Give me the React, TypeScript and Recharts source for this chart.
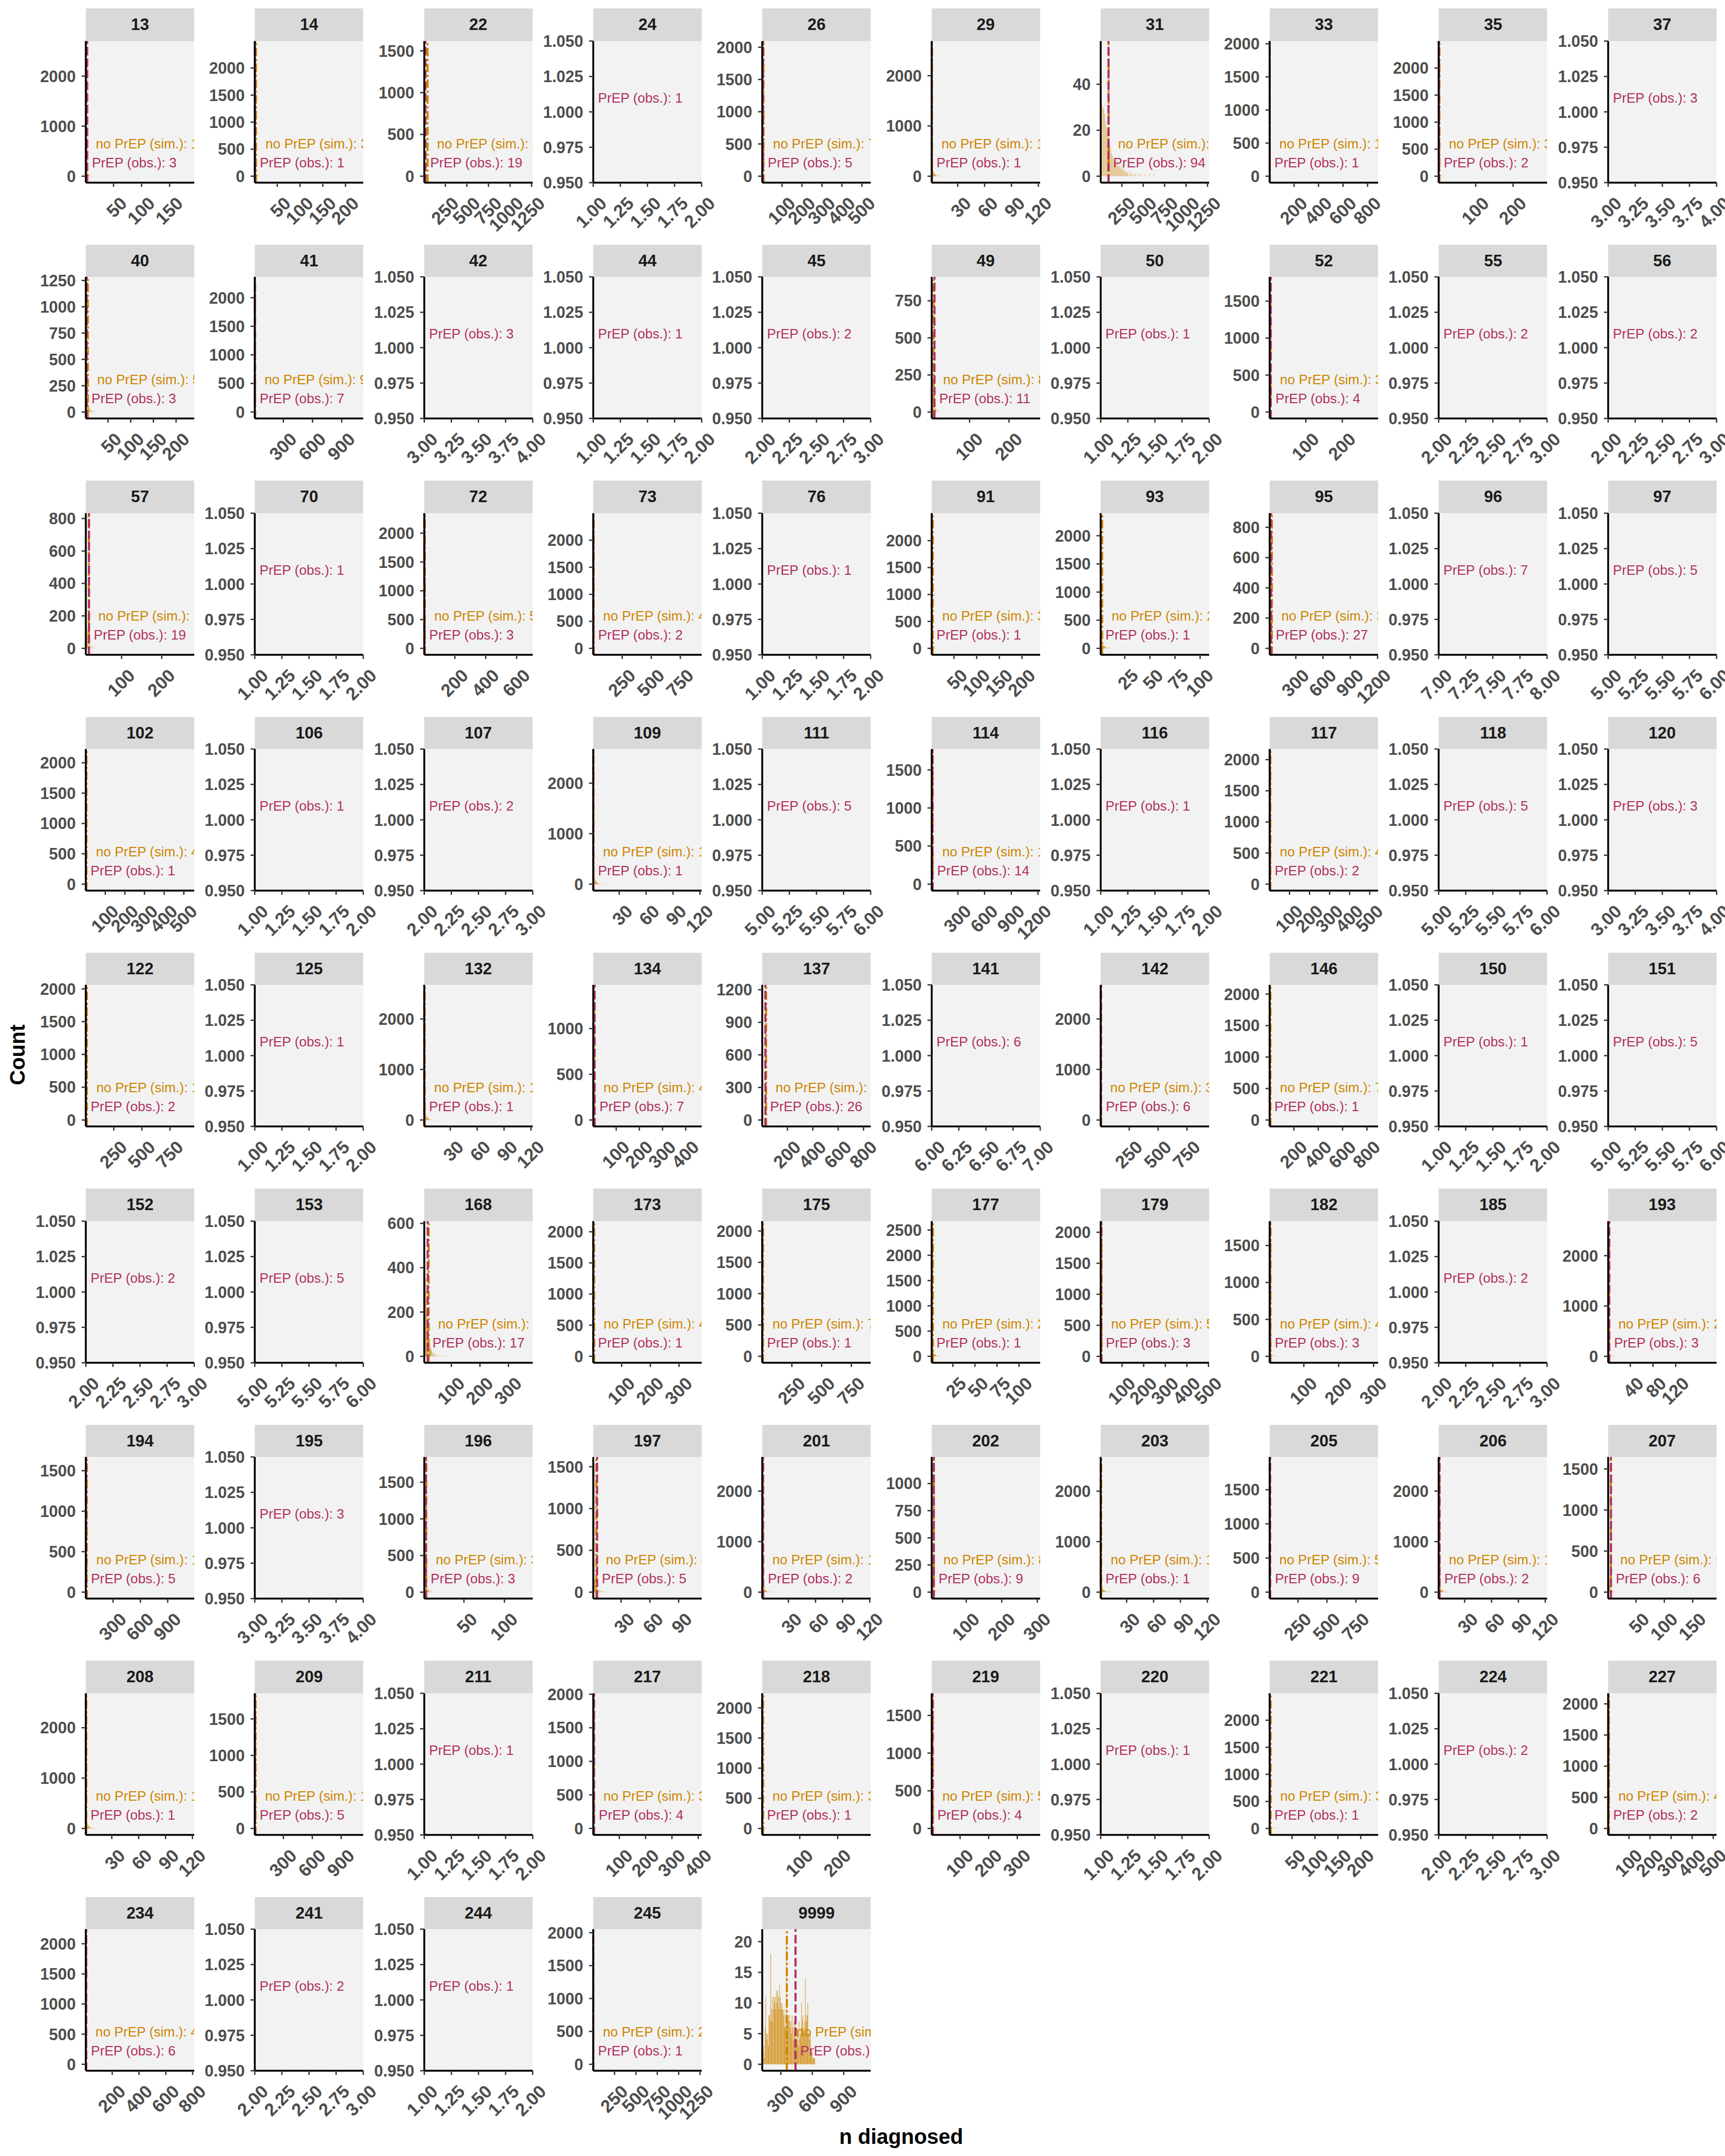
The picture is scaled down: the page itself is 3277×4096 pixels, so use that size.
import React from "react";
import {
  ComposedChart,
  Bar,
  XAxis,
  YAxis,
  CartesianGrid,
  ReferenceLine,
  ReferenceDot,
} from "recharts";

// facets, in reading order (10 per row)
const facetIds = [
  "13", "14", "22", "24", "26", "29", "31", "33", "35", "37",
  "40", "41", "42", "44", "45", "49", "50", "52", "55", "56",
  "57", "70", "72", "73", "76", "91", "93", "95", "96", "97",
  "102", "106", "107", "109", "111", "114", "116", "117", "118", "120",
  "122", "125", "132", "134", "137", "141", "142", "146", "150", "151",
  "152", "153", "168", "173", "175", "177", "179", "182", "185", "193",
  "194", "195", "196", "197", "201", "202", "203", "205", "206", "207",
  "208", "209", "211", "217", "218", "219", "220", "221", "224", "227",
  "234", "241", "244", "245", "9999",
];

// observed n diagnosed with PrEP
const prepObserved = [
  3, 1, 19, 1, 5, 1, 94, 1, 2, 3,
  3, 7, 3, 1, 2, 11, 1, 4, 2, 2,
  19, 1, 3, 2, 1, 1, 1, 27, 7, 5,
  1, 1, 2, 1, 5, 14, 1, 2, 5, 3,
  2, 1, 1, 7, 26, 6, 6, 1, 1, 5,
  2, 5, 17, 1, 1, 1, 3, 3, 2, 3,
  5, 3, 3, 5, 2, 9, 1, 9, 2, 6,
  1, 5, 1, 4, 1, 4, 1, 1, 2, 2,
  6, 2, 1, 1, 440,
];

// mean of simulated no-PrEP runs (null = no simulation for that facet)
const noPrepSimMean: (number | null)[] = [
  1.43, 3.12, 44.2, null, 7.31, 1.28, 95.4, 1.62, 3.05, null,
  5.34, 9.18, null, null, null, 8.64, null, 3.27, null, null,
  18.5, null, 5.41, 4.23, null, 3.35, 2.44, 36.1, null, null,
  4.37, null, null, 1.34, null, 17.4, null, 4.42, null, null,
  10.2, null, 1.45, 4.61, 31.5, null, 3.52, 7.48, null, null,
  null, null, 20.3, 4.18, 7.26, 2.35, 5.12, 4.33, null, 2.41,
  11.8, null, 3.44, 4.29, 1.72, 8.83, 1.61, 5.63, 1.87, 5.72,
  1.52, 11.3, null, 3.36, 3.21, 5.27, null, 3.18, null, 4.46,
  4.39, null, null, 2.33, 357,
];

// x range of each facet
const xLimits: (number[] | null)[] = [
  [0.5, 194], [0.5, 239], [6, 1263], null, [1, 544], [1, 122], [3, 1269], [1, 886], [1, 291], null,
  [1, 240], [6, 1121], null, null, null, [4, 279], null, [1, 298], null, null,
  [11, 281], null, [2, 704], [1, 934], null, [1, 240], [1, 109], [12, 1206], null, null,
  [1, 553], null, null, [1, 122], null, [6, 1225], null, [1, 542], null, null,
  [1, 966], null, [1, 122], [1, 469], [1, 856], null, [3, 942], [1, 892], null, null,
  null, null, [5, 385], [1, 379], [1, 912], [1, 124], [1, 503], [2, 313], null, [1, 192],
  [1, 1191], null, [1, 135], [1, 114], [1, 121], [3, 308], [1, 122], [5, 942], [1, 122], [1, 192],
  [1, 122], [3, 1129], null, [1, 413], [1, 287], [1, 380], null, [1, 238], null, [1, 516],
  [3, 812], null, null, [1, 1269], [122, 1157],
];

const xTickValues: (number[] | null)[] = [
  [50, 100, 150], [50, 100, 150, 200], [250, 500, 750, 1000, 1250], null, [100, 200, 300, 400, 500], [30, 60, 90, 120], [250, 500, 750, 1000, 1250], [200, 400, 600, 800], [100, 200], null,
  [50, 100, 150, 200], [300, 600, 900], null, null, null, [100, 200], null, [100, 200], null, null,
  [100, 200], null, [200, 400, 600], [250, 500, 750], null, [50, 100, 150, 200], [25, 50, 75, 100], [300, 600, 900, 1200], null, null,
  [100, 200, 300, 400, 500], null, null, [30, 60, 90, 120], null, [300, 600, 900, 1200], null, [100, 200, 300, 400, 500], null, null,
  [250, 500, 750], null, [30, 60, 90, 120], [100, 200, 300, 400], [200, 400, 600, 800], null, [250, 500, 750], [200, 400, 600, 800], null, null,
  null, null, [100, 200, 300], [100, 200, 300], [250, 500, 750], [25, 50, 75, 100], [100, 200, 300, 400, 500], [100, 200, 300], null, [40, 80, 120],
  [300, 600, 900], null, [50, 100], [30, 60, 90], [30, 60, 90, 120], [100, 200, 300], [30, 60, 90, 120], [250, 500, 750], [30, 60, 90, 120], [50, 100, 150],
  [30, 60, 90, 120], [300, 600, 900], null, [100, 200, 300, 400], [100, 200], [100, 200, 300], null, [50, 100, 150, 200], null, [100, 200, 300, 400, 500],
  [200, 400, 600, 800], null, null, [250, 500, 750, 1000, 1250], [300, 600, 900],
];

const yTickValues: (number[] | null)[] = [
  [0, 1000, 2000], [0, 500, 1000, 1500, 2000], [0, 500, 1000, 1500], null, [0, 500, 1000, 1500, 2000], [0, 1000, 2000], [0, 20, 40], [0, 500, 1000, 1500, 2000], [0, 500, 1000, 1500, 2000], null,
  [0, 250, 500, 750, 1000, 1250], [0, 500, 1000, 1500, 2000], null, null, null, [0, 250, 500, 750], null, [0, 500, 1000, 1500], null, null,
  [0, 200, 400, 600, 800], null, [0, 500, 1000, 1500, 2000], [0, 500, 1000, 1500, 2000], null, [0, 500, 1000, 1500, 2000], [0, 500, 1000, 1500, 2000], [0, 200, 400, 600, 800], null, null,
  [0, 500, 1000, 1500, 2000], null, null, [0, 1000, 2000], null, [0, 500, 1000, 1500], null, [0, 500, 1000, 1500, 2000], null, null,
  [0, 500, 1000, 1500, 2000], null, [0, 1000, 2000], [0, 500, 1000], [0, 300, 600, 900, 1200], null, [0, 1000, 2000], [0, 500, 1000, 1500, 2000], null, null,
  null, null, [0, 200, 400, 600], [0, 500, 1000, 1500, 2000], [0, 500, 1000, 1500, 2000], [0, 500, 1000, 1500, 2000, 2500], [0, 500, 1000, 1500, 2000], [0, 500, 1000, 1500], null, [0, 1000, 2000],
  [0, 500, 1000, 1500], null, [0, 500, 1000, 1500], [0, 500, 1000, 1500], [0, 1000, 2000], [0, 250, 500, 750, 1000], [0, 1000, 2000], [0, 500, 1000, 1500], [0, 1000, 2000], [0, 500, 1000, 1500],
  [0, 1000, 2000], [0, 500, 1000, 1500], null, [0, 500, 1000, 1500, 2000], [0, 500, 1000, 1500, 2000], [0, 500, 1000, 1500], null, [0, 500, 1000, 1500, 2000], null, [0, 500, 1000, 1500, 2000],
  [0, 500, 1000, 1500, 2000], null, null, [0, 500, 1000, 1500, 2000], [0, 5, 10, 15, 20],
];

// facets with no simulation: fixed 0.95..1.05 count axis, x from obs to obs + 1
const emptyYTicks = [0.95, 0.975, 1, 1.025, 1.05];
const emptyXSteps = [0, 0.25, 0.5, 0.75, 1];

// histogram bins of simulated n diagnosed: [bin centre, count]
const histBins: (number[][] | null)[] = [
  [[1, 2574], [2, 205], [3, 96], [4, 58], [5, 37], [6, 26], [8, 15], [10, 9], [13, 5], [17, 3], [24, 2], [35, 1], [60, 1]],
  [[1, 2381], [2, 176], [3, 85], [4, 51], [5, 34], [7, 19], [9, 12], [12, 7], [16, 4], [23, 2], [40, 1], [85, 1]],
  [[7, 1540], [8, 160], [10, 74], [13, 43], [17, 28], [24, 17], [35, 10], [55, 6], [90, 3], [150, 2], [260, 1]],
  null,
  [[1, 1996], [2, 168], [3, 84], [5, 45], [8, 25], [12, 14], [18, 8], [28, 4], [45, 2], [80, 1], [150, 1]],
  [[1, 2561], [2, 190], [3, 88], [4, 52], [5, 33], [6, 22], [8, 13], [10, 8], [14, 4], [20, 2], [32, 1]],
  [[5, 56], [10, 43], [20, 31], [30, 30], [40, 29], [50, 27], [60, 24], [70, 22], [80, 20], [90, 16], [100, 14], [110, 13], [120, 12], [130, 10], [140, 9], [150, 8], [160, 7], [170, 7], [180, 6], [190, 5], [200, 7], [210, 4], [220, 5], [230, 3], [240, 4], [250, 3], [260, 5], [270, 2], [280, 3], [290, 2], [300, 2], [310, 1], [320, 2], [340, 1], [350, 2], [370, 1], [390, 1], [410, 1], [440, 1], [470, 1], [520, 1], [570, 1], [620, 1]],
  [[1, 1944], [2, 150], [3, 72], [5, 38], [8, 21], [12, 12], [19, 6], [30, 3], [50, 2], [90, 1], [160, 1]],
  [[1, 2381], [2, 178], [3, 86], [4, 50], [6, 28], [8, 17], [11, 10], [15, 5], [22, 3], [35, 1], [60, 1]],
  null,
  [[1, 1223], [2, 520], [3, 260], [4, 150], [5, 110], [6, 82], [7, 61], [8, 46], [9, 36], [10, 28], [12, 20], [14, 14], [16, 9], [18, 6], [21, 4], [25, 2], [32, 1]],
  [[7, 2252], [8, 170], [10, 80], [13, 45], [17, 27], [24, 15], [35, 8], [55, 4], [90, 2], [160, 1]],
  null,
  null,
  null,
  [[5, 868], [6, 310], [7, 170], [8, 110], [9, 78], [10, 58], [12, 40], [14, 28], [16, 19], [19, 12], [23, 7], [28, 4], [35, 2], [48, 1]],
  null,
  [[1, 1742], [2, 140], [3, 68], [4, 40], [6, 23], [8, 14], [11, 8], [15, 4], [22, 2], [35, 1]],
  null,
  null,
  [[12, 793], [13, 240], [14, 130], [15, 90], [16, 64], [18, 42], [20, 30], [23, 19], [27, 12], [32, 7], [40, 4], [52, 2], [70, 1], [110, 1], [160, 1]],
  null,
  [[5, 2235], [6, 170], [8, 80], [10, 46], [13, 27], [18, 15], [25, 8], [38, 4], [60, 2], [110, 1]],
  [[6, 2381], [7, 180], [9, 84], [12, 46], [16, 27], [22, 15], [32, 8], [48, 4], [75, 2], [130, 1]],
  null,
  [[1, 2390], [2, 180], [3, 86], [4, 52], [6, 29], [8, 18], [11, 10], [15, 6], [21, 3], [32, 2], [55, 1]],
  [[1, 2286], [2, 175], [3, 84], [4, 50], [5, 34], [6, 24], [8, 14], [10, 9], [13, 5], [17, 3], [24, 2], [35, 1]],
  [[13, 851], [14, 260], [16, 140], [18, 90], [21, 60], [25, 40], [30, 27], [37, 17], [46, 10], [58, 6], [75, 4], [100, 2], [140, 1], [200, 1], [300, 1]],
  null,
  null,
  [[1, 2120], [2, 160], [3, 78], [5, 42], [8, 23], [12, 13], [18, 7], [28, 4], [45, 2], [80, 1]],
  null,
  null,
  [[1, 2548], [2, 188], [3, 90], [4, 54], [5, 35], [6, 24], [8, 14], [10, 9], [13, 5], [18, 3], [26, 1]],
  null,
  [[7, 1689], [8, 220], [10, 110], [13, 64], [17, 40], [24, 24], [35, 14], [52, 8], [80, 4], [130, 2], [220, 1], [380, 1]],
  null,
  [[1, 2067], [2, 158], [3, 76], [5, 41], [8, 22], [12, 12], [18, 7], [28, 3], [45, 2], [80, 1]],
  null,
  null,
  [[2, 1963], [3, 150], [5, 72], [8, 40], [12, 24], [18, 14], [27, 9], [40, 6], [60, 4], [90, 3], [130, 2], [190, 2], [260, 1], [350, 1], [450, 1]],
  null,
  [[1, 2548], [2, 190], [3, 92], [4, 55], [5, 36], [6, 25], [8, 15], [10, 9], [13, 5], [18, 3], [26, 2], [40, 1], [60, 1]],
  [[1, 1408], [2, 150], [3, 74], [4, 45], [6, 27], [8, 17], [11, 10], [15, 6], [21, 3], [32, 2], [55, 1], [100, 1]],
  [[2, 1186], [3, 160], [5, 80], [8, 48], [12, 30], [18, 19], [27, 12], [40, 8], [60, 5], [90, 3], [130, 2], [180, 1], [230, 1]],
  null,
  [[6, 2548], [7, 190], [9, 88], [12, 48], [16, 28], [22, 16], [32, 9], [48, 5], [75, 3], [120, 1]],
  [[1, 2045], [2, 155], [3, 75], [5, 40], [8, 22], [12, 12], [18, 7], [28, 4], [45, 2], [80, 1], [140, 1]],
  null,
  null,
  null,
  null,
  [[6, 581], [8, 437], [10, 350], [12, 291], [14, 200], [16, 155], [18, 126], [20, 95], [22, 75], [24, 58], [26, 43], [28, 35], [30, 25], [34, 18], [38, 14], [42, 10], [48, 7], [55, 5], [65, 4], [75, 3], [90, 2], [110, 2], [130, 1]],
  [[1, 2067], [2, 160], [3, 76], [5, 40], [8, 22], [12, 12], [18, 7], [28, 3], [45, 2], [80, 1]],
  [[1, 2053], [2, 158], [3, 76], [5, 40], [8, 22], [12, 13], [18, 7], [28, 4], [45, 2], [80, 1], [150, 1]],
  [[1, 2548], [2, 192], [3, 92], [4, 55], [5, 36], [6, 25], [8, 15], [10, 9], [13, 5], [17, 3], [24, 2], [35, 1]],
  [[1, 2075], [2, 160], [3, 78], [5, 42], [8, 23], [12, 13], [18, 7], [28, 4], [45, 2], [80, 1]],
  [[4, 1742], [5, 140], [6, 70], [8, 40], [10, 25], [13, 15], [17, 9], [23, 5], [32, 3], [45, 2], [70, 1]],
  null,
  [[1, 2558], [2, 190], [3, 90], [4, 54], [5, 35], [7, 20], [9, 12], [12, 7], [16, 4], [22, 2], [32, 1]],
  [[1, 1590], [2, 130], [3, 64], [5, 36], [8, 20], [12, 12], [18, 7], [28, 4], [45, 2], [80, 1], [140, 1]],
  null,
  [[2, 1756], [3, 140], [4, 68], [5, 42], [6, 28], [8, 17], [10, 10], [13, 6], [17, 3], [24, 2], [35, 1]],
  [[2, 1540], [3, 150], [4, 74], [5, 45], [6, 30], [8, 19], [10, 11], [13, 7], [17, 4], [24, 2], [35, 1]],
  [[1, 2548], [2, 190], [3, 90], [4, 54], [5, 35], [6, 24], [8, 14], [10, 9], [13, 5], [18, 3], [26, 1]],
  [[4, 1185], [5, 190], [6, 100], [7, 64], [8, 45], [10, 30], [12, 20], [15, 13], [19, 8], [25, 5], [33, 3], [45, 2], [65, 1]],
  [[1, 2548], [2, 190], [3, 90], [4, 54], [5, 35], [6, 24], [8, 14], [10, 9], [13, 5], [18, 3], [26, 1]],
  [[6, 1885], [7, 150], [9, 72], [12, 40], [16, 23], [22, 13], [32, 8], [48, 4], [75, 2], [120, 1]],
  [[1, 2548], [2, 188], [3, 90], [4, 54], [5, 35], [6, 24], [8, 14], [10, 9], [13, 5], [18, 3], [26, 1]],
  [[2, 1567], [3, 150], [4, 72], [5, 44], [6, 30], [8, 18], [10, 11], [13, 6], [17, 4], [23, 2], [32, 1]],
  [[1, 2555], [2, 190], [3, 90], [4, 54], [5, 35], [6, 24], [8, 14], [10, 9], [13, 5], [18, 3], [26, 1]],
  [[4, 1762], [5, 140], [7, 66], [10, 36], [14, 20], [20, 12], [30, 7], [45, 4], [70, 2], [120, 1]],
  null,
  [[1, 1917], [2, 150], [3, 72], [5, 38], [8, 21], [12, 12], [18, 6], [28, 3], [45, 2], [80, 1]],
  [[1, 2134], [2, 165], [3, 80], [4, 48], [6, 27], [8, 16], [11, 9], [15, 5], [22, 3], [35, 1]],
  [[1, 1708], [2, 140], [3, 68], [4, 42], [6, 25], [8, 15], [11, 9], [15, 5], [22, 3], [35, 1], [60, 1]],
  null,
  [[1, 2378], [2, 180], [3, 86], [4, 52], [5, 34], [7, 19], [9, 12], [12, 7], [16, 4], [23, 2], [40, 1]],
  null,
  [[1, 2066], [2, 158], [3, 76], [5, 40], [8, 22], [12, 12], [18, 7], [28, 3], [45, 2], [80, 1]],
  [[4, 2136], [5, 165], [7, 78], [10, 42], [14, 24], [20, 13], [30, 7], [45, 4], [70, 2], [120, 1]],
  null,
  null,
  [[7, 1957], [8, 150], [10, 72], [13, 40], [17, 23], [24, 13], [35, 7], [55, 4], [90, 2], [150, 1]],
  [[132, 2], [138, 3], [144, 1], [150, 6], [156, 11], [162, 5], [168, 4], [174, 5], [180, 3], [186, 8], [192, 8], [198, 7], [204, 18], [210, 9], [216, 7], [222, 11], [228, 9], [234, 11], [240, 10], [246, 11], [252, 9], [258, 12], [264, 10], [270, 12], [276, 11], [282, 9], [288, 13], [294, 11], [300, 10], [306, 9], [312, 10], [318, 9], [324, 8], [330, 9], [336, 6], [342, 8], [348, 6], [354, 21], [360, 8], [366, 7], [372, 8], [378, 7], [384, 8], [390, 6], [396, 7], [402, 5], [408, 8], [414, 6], [420, 4], [426, 7], [432, 5], [438, 8], [444, 3], [450, 6], [456, 4], [462, 5], [468, 3], [474, 7], [480, 4], [486, 5], [492, 6], [498, 10], [504, 7], [510, 8], [516, 6], [522, 5], [528, 7], [534, 14], [540, 8], [546, 7], [552, 8], [558, 10], [564, 5], [570, 5], [576, 4], [582, 5], [588, 2], [594, 2], [600, 2], [606, 1], [612, 1], [618, 1], [624, 1]],
];

// bin width for facets that are not binned by 1
const wideBins: [string, number][] = [["31", 10], ["168", 2], ["9999", 6]];

const FONT = "'Liberation Sans', Arial, Helvetica, sans-serif";
const SIM_COLOR = "#CD8500";
const OBS_COLOR = "#B03060";

// layout (px)
const COL_X0 = 163;
const COL_STEP = 321.3;
const PANEL_W = 206;
const ROW_Y0 = 16.4;
const ROW_STEP = 448.4;
const STRIP_H = 61.4;
const PANEL_H = 269;
const Y_AXIS_W = 112;
const TOP_PAD = 22;
const X_AXIS_H = 124;
const RIGHT_PAD = 48;

const clippedText = (text: string, color: string, dx: number) => (p: any) => {
  const cx = p.cx ?? p.x ?? 0;
  const cy = p.cy ?? p.y ?? 0;
  return (
    <svg x={Y_AXIS_W} y={TOP_PAD} width={PANEL_W} height={PANEL_H} overflow="hidden">
      <text
        x={cx - Y_AXIS_W + dx}
        y={cy - TOP_PAD}
        fill={color}
        fontSize={25.7}
        fontFamily={FONT}
        dominantBaseline="central"
      >
        {text}
      </text>
    </svg>
  );
};

function YTick(props: any) {
  const { x, y, payload, digits } = props;
  return (
    <text x={x} y={y} textAnchor="end" dominantBaseline="central" fill="#4D4D4D"
      fontSize={30.5} fontWeight={700} fontFamily={FONT}>
      {Number(payload.value).toFixed(digits)}
    </text>
  );
}

function XTick(props: any) {
  const { x, y, payload, digits } = props;
  const ax = x + 10;
  return (
    <text x={ax} y={y} transform={`rotate(-45, ${ax}, ${y})`} textAnchor="end"
      dominantBaseline="hanging" fill="#4D4D4D" fontSize={34} fontWeight={700} fontFamily={FONT}>
      {Number(payload.value).toFixed(digits)}
    </text>
  );
}

function Facet({ index }: { index: number }) {
  const col = index % 10;
  const row = Math.floor(index / 10);
  const left = COL_X0 + col * COL_STEP;
  const top = ROW_Y0 + row * ROW_STEP;
  const id = facetIds[index];
  const obs = prepObserved[index];
  const sim = noPrepSimMean[index];
  const bins = histBins[index];
  const empty = sim === null || bins === null;

  const xDomain = empty ? [obs, obs + 1] : (xLimits[index] as number[]);
  const xTicks = empty ? emptyXSteps.map((s) => obs + s) : (xTickValues[index] as number[]);
  const peak = empty ? 1 : Math.max(...(bins as number[][]).map((b) => b[1]));
  const yDomain = empty ? [0.95, 1.05] : [-0.05 * peak, 1.05 * peak];
  const yTicks = empty ? emptyYTicks : (yTickValues[index] as number[]);
  const data = empty ? [] : (bins as number[][]).map(([x, count]) => ({ x, count }));
  const binW = wideBins.find((w) => w[0] === id)?.[1] ?? 1;
  const barSize = Math.max(1.2, ((binW * PANEL_W) / (xDomain[1] - xDomain[0])) * 0.9);

  return (
    <>
      <div
        style={{
          position: "absolute", left, top, width: PANEL_W, height: STRIP_H,
          background: "#D9D9D9", color: "#1A1A1A", fontWeight: 700, fontSize: 31,
          lineHeight: `${STRIP_H}px`, textAlign: "center", fontFamily: FONT,
        }}
      >
        {id}
      </div>
      <div style={{ position: "absolute", left: left - Y_AXIS_W, top: top + STRIP_H - TOP_PAD }}>
        <ComposedChart
          width={Y_AXIS_W + PANEL_W + RIGHT_PAD}
          height={TOP_PAD + PANEL_H + X_AXIS_H}
          data={data}
          margin={{ top: TOP_PAD, right: RIGHT_PAD, bottom: 0, left: 0 }}
        >
          <CartesianGrid fill="#F2F2F2" stroke="none" horizontal={false} vertical={false} />
          <XAxis
            type="number" dataKey="x" domain={xDomain} ticks={xTicks} allowDataOverflow
            interval={0} height={X_AXIS_H} tickSize={8} tickMargin={16}
            axisLine={{ stroke: "#000000", strokeWidth: 3.5 }}
            tickLine={{ stroke: "#333333", strokeWidth: 2.5 }}
            tick={(p: any) => <XTick {...p} digits={empty ? 2 : 0} />}
          />
          <YAxis
            type="number" domain={yDomain} ticks={yTicks} allowDataOverflow
            interval={0} width={Y_AXIS_W} tickSize={8} tickMargin={11}
            axisLine={{ stroke: "#000000", strokeWidth: 3.5 }}
            tickLine={{ stroke: "#333333", strokeWidth: 2.5 }}
            tick={(p: any) => <YTick {...p} digits={empty ? 3 : 0} />}
          />
          {!empty && (
            <Bar dataKey="count" fill={SIM_COLOR} fillOpacity={0.8} barSize={barSize} isAnimationActive={false} />
          )}
          {!empty && (
            <ReferenceLine x={sim as number} stroke={SIM_COLOR} strokeWidth={4} strokeDasharray="16 5 4 5" />
          )}
          {!empty && (
            <ReferenceLine x={obs} stroke={OBS_COLOR} strokeWidth={4} strokeDasharray="16 6" />
          )}
          {!empty && (
            <ReferenceDot
              x={sim as number} y={0.254 * peak} r={0} ifOverflow="visible"
              shape={clippedText(`no PrEP (sim.): ${sim}`, SIM_COLOR, 18)}
            />
          )}
          <ReferenceDot
            x={obs} y={empty ? 1.01 : 0.105 * peak} r={0} ifOverflow="visible"
            shape={clippedText(`PrEP (obs.): ${obs}`, OBS_COLOR, 9)}
          />
        </ComposedChart>
      </div>
    </>
  );
}

export default function App() {
  return (
    <div style={{ position: "relative", width: 3277, height: 4096, background: "#FFFFFF", fontFamily: FONT }}>
      <style>{"body{margin:0}"}</style>
      {facetIds.map((id, i) => (
        <Facet key={id} index={i} />
      ))}
      <div
        style={{
          position: "absolute", left: 33, top: 2004, transform: "translate(-50%, -50%) rotate(-90deg)",
          fontSize: 40, fontWeight: 700, color: "#000000", whiteSpace: "nowrap",
        }}
      >
        Count
      </div>
      <div
        style={{
          position: "absolute", left: 1712, top: 4059, transform: "translate(-50%, -50%)",
          fontSize: 40, fontWeight: 700, color: "#000000", whiteSpace: "nowrap",
        }}
      >
        n diagnosed
      </div>
    </div>
  );
}
